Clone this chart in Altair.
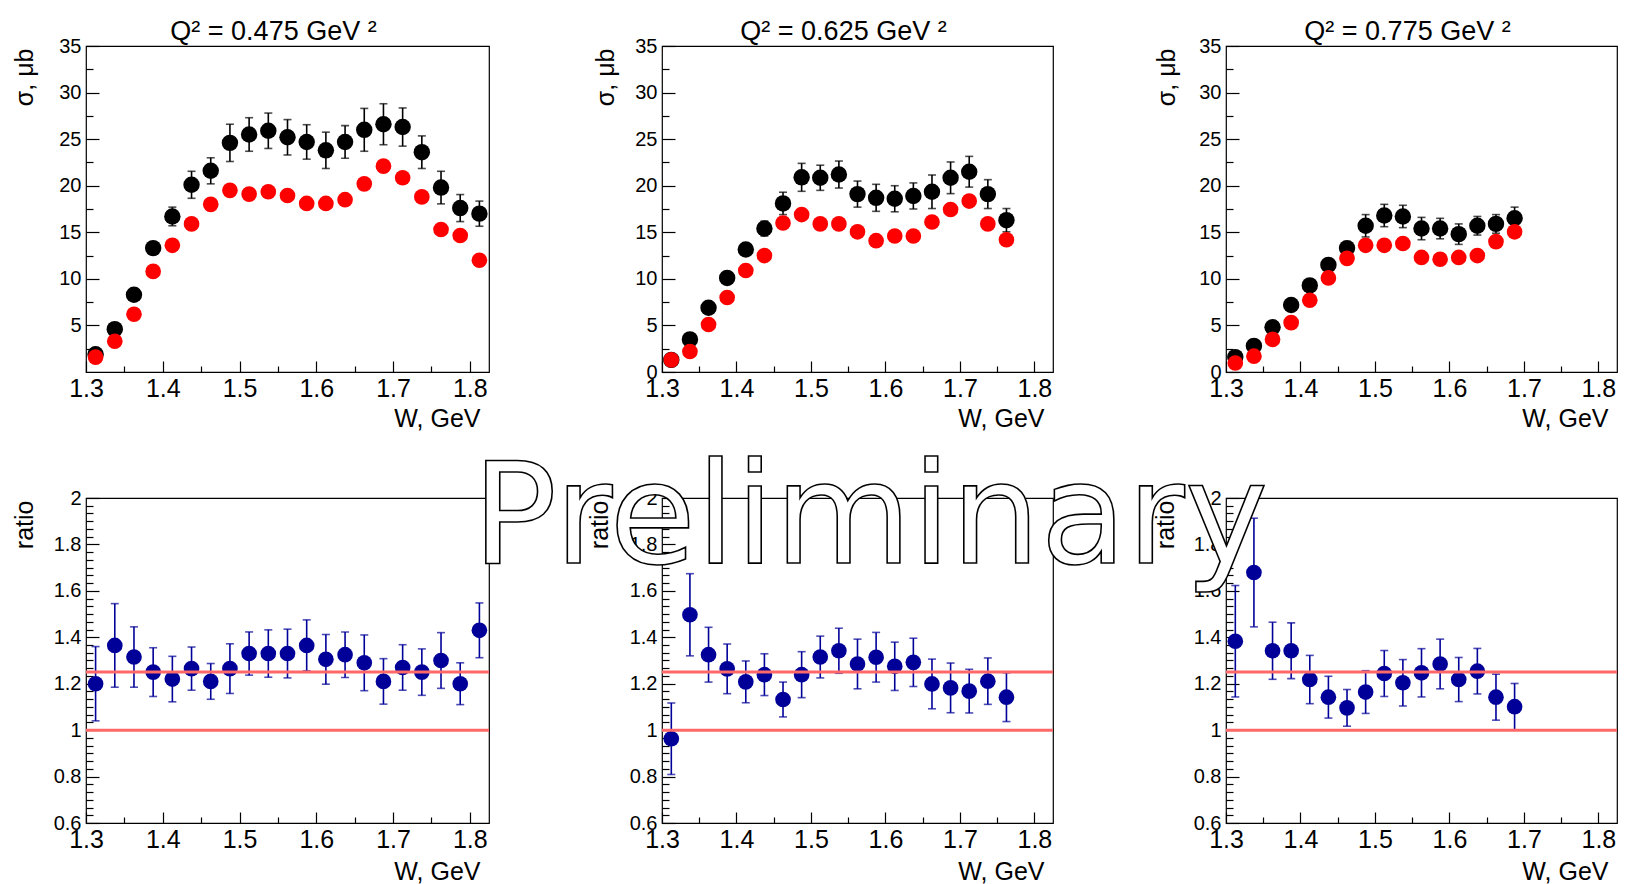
import altair as alt
import pandas as pd

# ---------------- data ----------------
w_bins = [1.3125, 1.3375, 1.3625, 1.3875, 1.4125, 1.4375, 1.4625, 1.4875, 1.5125, 1.5375,
          1.5625, 1.5875, 1.6125, 1.6375, 1.6625, 1.6875, 1.7125, 1.7375, 1.7625, 1.7875, 1.8125]

q2_titles = ["Q² = 0.475 GeV ²", "Q² = 0.625 GeV ²", "Q² = 0.775 GeV ²"]

# Q2 = 0.475
sig_black_1 = [1.9, 4.6, 8.3, 13.3, 16.7, 20.1, 21.6, 24.6, 25.5, 25.9, 25.2, 24.7, 23.8, 24.7,
               26.0, 26.6, 26.3, 23.6, 19.8, 17.6, 17.0]
err_black_1 = [0.3, 0.4, 0.5, 0.6, 1.0, 1.45, 1.4, 2.0, 1.8, 1.9, 1.9, 1.85, 1.95, 1.75,
               2.3, 2.2, 2.05, 1.75, 1.75, 1.45, 1.35]
sig_red_1 = [1.6, 3.3, 6.2, 10.8, 13.6, 15.9, 18.0, 19.5, 19.1, 19.35, 18.95, 18.1, 18.1, 18.5,
             20.2, 22.1, 20.85, 18.8, 15.3, 14.65, 12.0]

# Q2 = 0.625
sig_black_2 = [1.3, 3.5, 6.9, 10.1, 13.15, 15.4, 18.1, 20.9, 20.85, 21.2, 19.1, 18.7, 18.6, 18.9,
               19.35, 20.85, 21.5, 19.1, 16.3]
err_black_2 = [0.3, 0.4, 0.5, 0.5, 0.6, 0.8, 1.2, 1.5, 1.35, 1.45, 1.4, 1.45, 1.4, 1.4,
               1.8, 1.7, 1.65, 1.55, 1.25]
sig_red_2 = [1.3, 2.2, 5.1, 8.0, 10.9, 12.5, 16.0, 16.9, 15.9, 15.9, 15.05, 14.1, 14.6, 14.6,
             16.1, 17.45, 18.35, 15.9, 14.2]

# Q2 = 0.775
sig_black_3 = [1.6, 2.8, 4.8, 7.2, 9.3, 11.5, 13.3, 15.7, 16.8, 16.7, 15.4, 15.4, 14.8, 15.7,
               15.9, 16.5]
err_black_3 = [0.3, 0.3, 0.4, 0.5, 0.5, 0.6, 0.7, 1.2, 1.2, 1.2, 1.2, 1.1, 1.1, 1.0, 1.0, 1.2]
sig_red_3 = [0.97, 1.7, 3.5, 5.3, 7.7, 10.1, 12.2, 13.6, 13.6, 13.8, 12.3, 12.1, 12.3, 12.5,
             14.0, 15.05]

# ratios
ratio_1 = [1.20, 1.365, 1.315, 1.25, 1.22, 1.265, 1.21, 1.265, 1.33, 1.33, 1.33, 1.365, 1.305,
           1.325, 1.29, 1.21, 1.27, 1.25, 1.30, 1.20, 1.43]
rerr_1 = [0.16, 0.18, 0.13, 0.105, 0.098, 0.093, 0.077, 0.107, 0.093, 0.102, 0.105, 0.11, 0.107,
          0.098, 0.12, 0.098, 0.098, 0.10, 0.12, 0.09, 0.118]
ratio_2 = [0.963, 1.497, 1.325, 1.264, 1.208, 1.239, 1.132, 1.239, 1.315, 1.342, 1.285, 1.314,
           1.275, 1.292, 1.199, 1.182, 1.168, 1.211, 1.142]
rerr_2 = [0.154, 0.177, 0.118, 0.107, 0.09, 0.09, 0.075, 0.099, 0.09, 0.097, 0.107, 0.107,
          0.104, 0.104, 0.107, 0.107, 0.094, 0.10, 0.105]
ratio_3 = [1.383, 1.679, 1.342, 1.342, 1.218, 1.142, 1.096, 1.164, 1.244, 1.204, 1.247, 1.285,
           1.218, 1.254, 1.142, 1.101]
rerr_3 = [0.24, 0.234, 0.123, 0.12, 0.104, 0.09, 0.079, 0.092, 0.099, 0.1, 0.104, 0.107,
          0.095, 0.098, 0.099, 0.1]

ref_lines = [1.0, 1.25]

# axis tick values
x_major = [1.3, 1.4, 1.5, 1.6, 1.7, 1.8]
x_minor = [1.35, 1.45, 1.55, 1.65, 1.75]
sig_major = [0, 5, 10, 15, 20, 25, 30, 35]
sig_minor = [2.5, 7.5, 12.5, 17.5, 22.5, 27.5, 32.5]
ratio_major = [0.6, 0.8, 1.0, 1.2, 1.4, 1.6, 1.8, 2.0]
ratio_minor = [round(0.6 + k / 30, 4) for k in range(1, 42) if k % 6 != 0]

watermark = pd.DataFrame({"text": ["Preliminary"], "x": [0.822], "y": [1.721]})

# ---------------- style ----------------
FONT = "Liberation Sans"
BLUE = "#000099"
XDOM = [1.3, 1.825]
widths = [403, 391, 391]
ytitle_anchor_top = [-49, -44, -47]
ytitle_anchor_bot = [-49, -50, -48]
TOP_H = 326
BOT_H = 325


def x_major_axis(width, title_y):
    return alt.Axis(values=x_major, orient="bottom", tickSize=11, offset=-11, domain=False,
                    grid=False, tickColor="black", tickWidth=1.2, labelFont=FONT,
                    labelFontSize=25, labelColor="black", labelPadding=4, labelFlush=False,
                    labelOverlap=False, labelBound=False, format="~g",
                    title="W, GeV", titleFont=FONT, titleFontSize=25, titleFontWeight="normal",
                    titleColor="black", titleX=width - 9, titleY=title_y, titleAlign="right",
                    titleBaseline="alphabetic", titleAngle=0)


def x_minor_axis():
    return alt.Axis(values=x_minor, orient="bottom", tickSize=6, offset=-6, domain=False,
                    grid=False, labels=False, tickColor="black", tickWidth=1.2, title=None)


def y_major_axis(values, title, anchor):
    return alt.Axis(values=values, orient="left", tickSize=13, offset=-13, domain=False,
                    grid=False, tickColor="black", tickWidth=1.2, labelFont=FONT,
                    labelFontSize=20, labelColor="black", labelPadding=5, labelFlush=False,
                    labelOverlap=False, labelBound=False, format="~g",
                    title=title, titleFont=FONT, titleFontSize=25, titleFontWeight="normal",
                    titleColor="black", titleX=anchor - 13, titleY=2, titleAlign="right",
                    titleBaseline="bottom", titleAngle=270)


def y_minor_axis(values):
    return alt.Axis(values=values, orient="left", tickSize=7, offset=-7, domain=False,
                    grid=False, labels=False, tickColor="black", tickWidth=1.2, title=None)


def top_panel(i, sb, eb, sr):
    n = len(sb)
    df = pd.DataFrame({
        "W": w_bins[:n],
        "sb": sb,
        "lo": [s - e for s, e in zip(sb, eb)],
        "hi": [s + e for s, e in zip(sb, eb)],
        "sr": sr,
    })
    xs = alt.Scale(domain=XDOM, nice=False, zero=False)
    ys = alt.Scale(domain=[0, 35], nice=False, zero=False)
    base = alt.Chart(df)
    major_vals = sig_major[1:] if i == 0 else sig_major
    minor = base.mark_point(opacity=0).encode(
        x=alt.X("W:Q", scale=xs, axis=x_minor_axis()),
        y=alt.Y("sb:Q", scale=ys, axis=y_minor_axis(sig_minor)),
    )
    err = base.mark_errorbar(ticks=True, size=8, thickness=1.6, color="black").encode(
        x=alt.X("W:Q", scale=xs, axis=None),
        y=alt.Y("lo:Q", scale=ys, axis=None),
        y2="hi:Q",
    )
    black = base.mark_circle(size=270, color="black", opacity=1).encode(
        x=alt.X("W:Q", scale=xs, axis=x_major_axis(widths[i], 65)),
        y=alt.Y("sb:Q", scale=ys, axis=y_major_axis(major_vals, "σ, μb", ytitle_anchor_top[i])),
    )
    red = base.mark_circle(size=245, color="#ff0000", opacity=1).encode(
        x=alt.X("W:Q", scale=xs, axis=None),
        y=alt.Y("sr:Q", scale=ys, axis=None),
    )
    return alt.layer(minor, err, black, red).resolve_axis(
        x="independent", y="independent"
    ).properties(
        width=widths[i], height=TOP_H,
        title=alt.TitleParams(q2_titles[i], font=FONT, fontSize=27, fontWeight="normal",
                              color="black", frame="group", offset=-31, baseline="alphabetic",
                              anchor="middle", dx=-14),
    )


def bottom_panel(i, r, e, with_mark=False):
    n = len(r)
    df = pd.DataFrame({
        "W": w_bins[:n],
        "r": r,
        "lo": [a - b for a, b in zip(r, e)],
        "hi": [a + b for a, b in zip(r, e)],
    })
    xs = alt.Scale(domain=XDOM, nice=False, zero=False)
    ys = alt.Scale(domain=[0.6, 2.0], nice=False, zero=False)
    base = alt.Chart(df)
    minor = base.mark_point(opacity=0).encode(
        x=alt.X("W:Q", scale=xs, axis=x_minor_axis()),
        y=alt.Y("r:Q", scale=ys, axis=y_minor_axis(ratio_minor)),
    )
    err = base.mark_errorbar(ticks=True, size=8, thickness=1.6, color=BLUE).encode(
        x=alt.X("W:Q", scale=xs, axis=None),
        y=alt.Y("lo:Q", scale=ys, axis=None),
        y2="hi:Q",
    )
    pts = base.mark_circle(size=245, color=BLUE, opacity=1).encode(
        x=alt.X("W:Q", scale=xs, axis=x_major_axis(widths[i], 67)),
        y=alt.Y("r:Q", scale=ys, axis=y_major_axis(ratio_major, "ratio", ytitle_anchor_bot[i])),
    )
    lines = alt.Chart(pd.DataFrame({"v": ref_lines})).mark_rule(
        color="#ff6868", strokeWidth=3
    ).encode(y=alt.Y("v:Q", scale=ys, axis=None))
    layers = [minor, err, pts, lines]
    if with_mark:
        text = alt.Chart(watermark).mark_text(
            font="DejaVu Sans", fontSize=141, fill="white", stroke="black", strokeWidth=1.6,
            align="center", baseline="alphabetic"
        ).encode(
            x=alt.X("x:Q", scale=xs, axis=None),
            y=alt.Y("y:Q", scale=ys, axis=None),
            text="text:N",
        )
        layers.append(text)
    return alt.layer(*layers).resolve_axis(
        x="independent", y="independent"
    ).properties(width=widths[i], height=BOT_H)


p1 = top_panel(0, sig_black_1, err_black_1, sig_red_1)
p2 = top_panel(1, sig_black_2, err_black_2, sig_red_2)
p3 = top_panel(2, sig_black_3, err_black_3, sig_red_3)
p4 = bottom_panel(0, ratio_1, rerr_1)
p5 = bottom_panel(1, ratio_2, rerr_2)
p6 = bottom_panel(2, ratio_3, rerr_3, with_mark=True)

chart = alt.concat(
    p1, p2, p3, p4, p5, p6,
    columns=3,
    spacing={"row": 126, "column": 173},
    bounds="flush",
    align="each",
).properties(
    padding={"left": 11, "top": 17, "right": 0, "bottom": 0},
    background="white",
).configure_view(stroke="black", strokeWidth=1.2)

chart.save("out.html", embed_options={"renderer": "svg", "actions": False})
